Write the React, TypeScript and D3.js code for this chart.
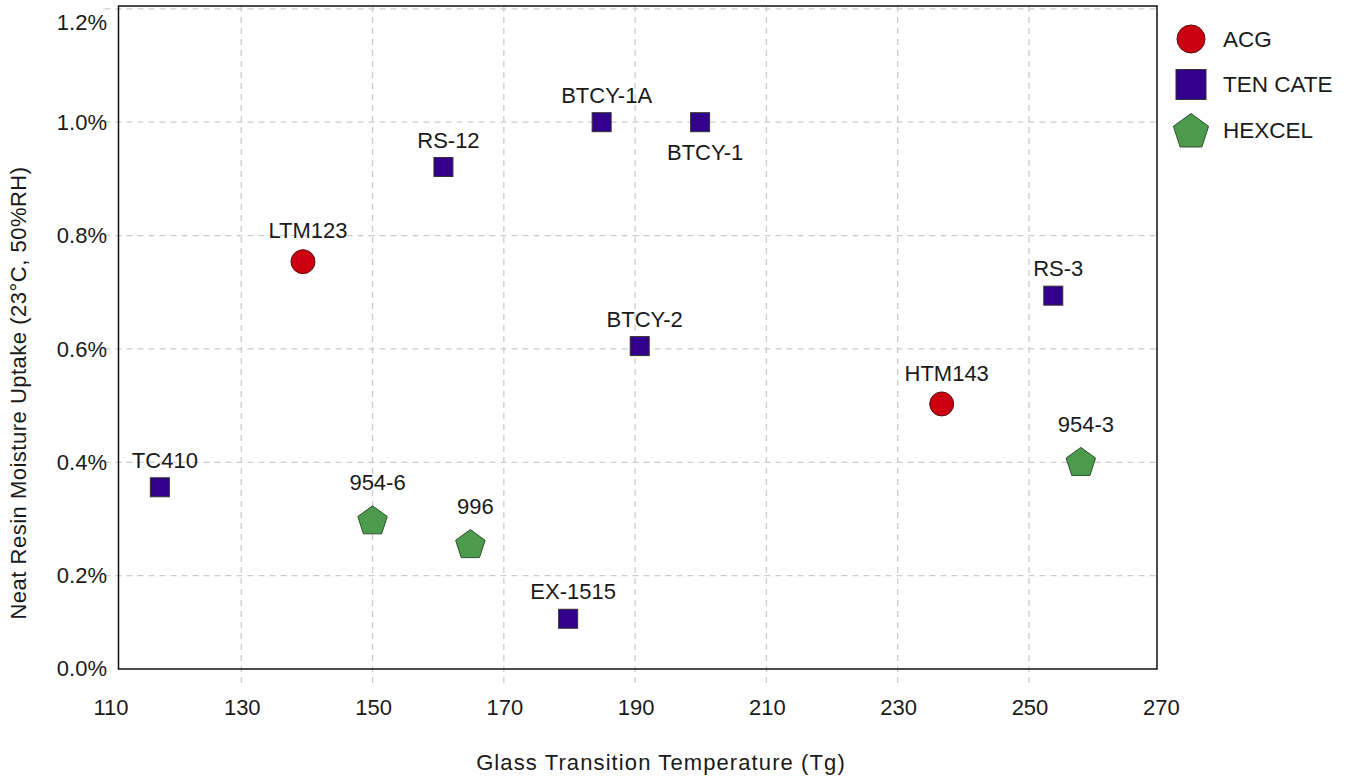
import { useMemo } from "react";
import * as d3 from "d3";

// Makers (legend order)
const SERIES = ["ACG", "TEN CATE", "HEXCEL"];

// Resin systems
const NAMES = ["LTM123", "HTM143", "TC410", "RS-12", "BTCY-1A", "BTCY-1", "BTCY-2", "RS-3", "EX-1515", "954-6", "996", "954-3"];
const MAKER = [0, 0, 1, 1, 1, 1, 1, 1, 1, 2, 2, 2];
const TG = [139.4, 236.7, 117.6, 160.8, 184.9, 199.9, 190.7, 253.7, 179.8, 150, 164.9, 257.9];
const UPTAKE = [0.754, 0.503, 0.356, 0.921, 1.0, 1.0, 0.605, 0.694, 0.124, 0.296, 0.254, 0.399];
const LABEL_BELOW = ["BTCY-1"];

const X_TICKS = [110, 130, 150, 170, 190, 210, 230, 250, 270];
const Y_TICKS = [0, 0.2, 0.4, 0.6, 0.8, 1.0, 1.2];

const W = 1349;
const H = 776;
const plot = { left: 118.5, right: 1157, top: 6, bottom: 669 };
const FONT = "'Liberation Sans', Arial, sans-serif";

const STYLE = [
  { fill: "#cc0010", stroke: "#5a1010", size: 12, legendSize: 14, labelOffset: 31 },
  { fill: "#32008a", stroke: "#333333", size: 9.5, legendSize: 15, labelOffset: 27 },
  { fill: "#4c9a4c", stroke: "#2f4f2f", size: 15.5, legendSize: 18.5, labelOffset: 39 },
];

function pentagon(r: number) {
  const pts = d3.range(5).map((i) => {
    const a = -Math.PI / 2 + (i * 2 * Math.PI) / 5;
    return [r * Math.cos(a), r * Math.sin(a)];
  });
  return "M" + pts.map((p) => p.join(",")).join("L") + "Z";
}

function Marker({ kind, size, x, y }: { kind: number; size: number; x: number; y: number }) {
  const s = STYLE[kind];
  if (kind === 0)
    return <circle cx={x} cy={y} r={size} fill={s.fill} stroke={s.stroke} strokeWidth={1} />;
  if (kind === 1)
    return (
      <rect x={x - size} y={y - size} width={size * 2} height={size * 2} fill={s.fill} stroke={s.stroke} strokeWidth={1} />
    );
  return <path d={pentagon(size)} transform={`translate(${x},${y})`} fill={s.fill} stroke={s.stroke} strokeWidth={1} />;
}

export default function App() {
  const x = useMemo(() => d3.scaleLinear().domain([111.3, 269.5]).range([plot.left, plot.right]), []);
  const y = useMemo(() => d3.scaleLinear().domain([0.0354, 1.205]).range([plot.bottom, plot.top]), []);

  return (
    <svg width={W} height={H} style={{ position: "absolute", left: 0, top: 0, background: "#fff" }} fontFamily={FONT}>
      {/* grid (extends past the frame as ticks) */}
      <g stroke="#cccccc" strokeWidth={1.3} strokeDasharray="6,5">
        {X_TICKS.filter((t) => x(t) > plot.left + 1 && x(t) < plot.right - 1).map((t) => (
          <line key={t} x1={x(t)} x2={x(t)} y1={plot.top} y2={plot.bottom + 16} />
        ))}
        {Y_TICKS.filter((t) => y(t) > plot.top + 1 && y(t) < plot.bottom - 1).map((t) => (
          <line key={t} x1={plot.left - 14} x2={plot.right} y1={y(t)} y2={y(t)} />
        ))}
      </g>

      <rect
        x={plot.left}
        y={plot.top}
        width={plot.right - plot.left}
        height={plot.bottom - plot.top}
        fill="none"
        stroke="#111"
        strokeWidth={1.5}
      />

      {/* tick labels */}
      <g fontSize={22} fill="#1a1a1a">
        {X_TICKS.map((t) => (
          <text key={t} x={x(t) + 1} y={707} dy="0.35em" textAnchor="middle">
            {t}
          </text>
        ))}
        {Y_TICKS.map((t) => (
          <text key={t} x={107} y={Math.min(Math.max(y(t), 22), 668)} dy="0.35em" textAnchor="end">
            {t.toFixed(1)}%
          </text>
        ))}
      </g>

      {/* axis titles */}
      <text x={661} y={762} dy="0.35em" textAnchor="middle" fontSize={22} letterSpacing={1.1} fill="#1a1a1a">
        Glass Transition Temperature (Tg)
      </text>
      <text
        transform="translate(18,393) rotate(-90)"
        dy="0.35em"
        textAnchor="middle"
        fontSize={22}
        letterSpacing={0.5}
        fill="#1a1a1a"
      >
        Neat Resin Moisture Uptake (23°C, 50%RH)
      </text>

      {/* points */}
      {NAMES.map((name, i) => {
        const k = MAKER[i];
        const px = x(TG[i]);
        const py = y(UPTAKE[i]);
        const below = LABEL_BELOW.includes(name);
        return (
          <g key={name}>
            <Marker kind={k} size={STYLE[k].size} x={px} y={py} />
            <text
              x={px + 5}
              y={below ? py + STYLE[k].labelOffset + 3 : py - STYLE[k].labelOffset}
              dy="0.35em"
              textAnchor="middle"
              fontSize={22}
              fill="#1a1a1a"
            >
              {name}
            </text>
          </g>
        );
      })}

      {/* legend */}
      {SERIES.map((name, i) => {
        const ly = 39 + i * 45.5;
        return (
          <g key={name}>
            <Marker kind={i} size={STYLE[i].legendSize} x={1191} y={i === 2 ? ly + 2 : ly} />
            <text x={1223} y={ly} dy="0.35em" fontSize={22.5} fill="#1a1a1a">
              {name}
            </text>
          </g>
        );
      })}
    </svg>
  );
}
